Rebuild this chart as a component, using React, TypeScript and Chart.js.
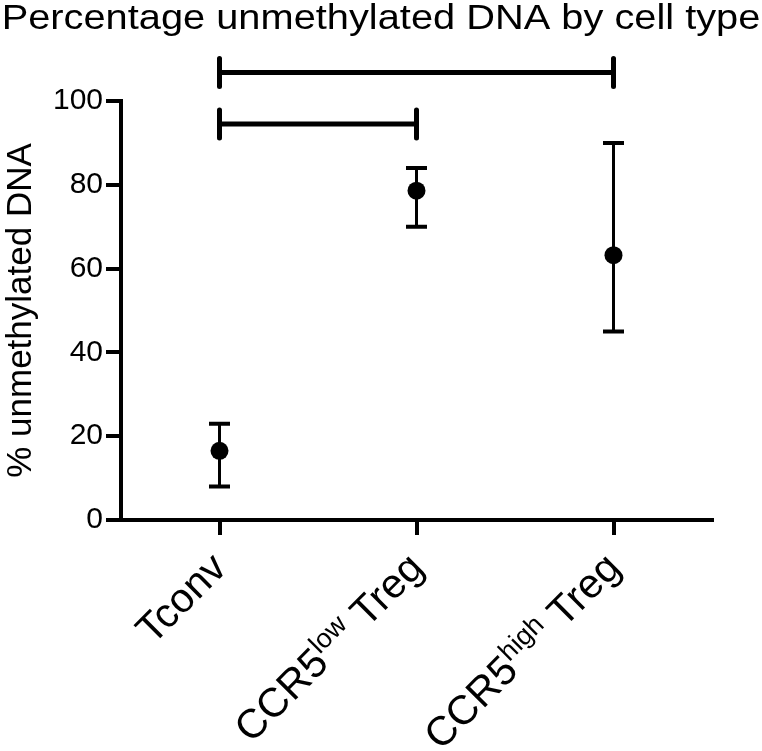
import React, { useEffect, useRef } from 'react';
import { Chart, registerables } from 'chart.js';

Chart.register(...registerables);

const FONT = "'Liberation Sans', Arial, Helvetica, sans-serif";

const chartTitle = 'Percentage unmethylated DNA by cell type';
const yAxisTitle = '% unmethylated DNA';
const categories = ['Tconv', 'CCR5low Treg', 'CCR5high Treg'];
const labelBase = ['Tconv', 'CCR5', 'CCR5'];
const labelSup = ['', 'low', 'high'];
const labelTail = ['', ' Treg', ' Treg'];
const means = [16.5, 78.6, 63.2];
const lowers = [8, 70, 45];
const uppers = [23, 84, 90];
const yMin = 0;
const yMax = 100;
const yStep = 20;
const bracketFrom = [0, 0];
const bracketTo = [1, 2];
const bracketLevel = [94.5, 106.8];

const titlePlugin = {
  id: 'stretchedTitle',
  afterDraw(chart: any) {
    const ctx = chart.ctx;
    ctx.save();
    ctx.font = `35px ${FONT}`;
    ctx.fillStyle = '#000';
    ctx.textAlign = 'center';
    ctx.textBaseline = 'alphabetic';
    ctx.translate(chart.width / 2, 28.5);
    ctx.scale(1.137, 1);
    ctx.fillText(chartTitle, 0, 0);
    ctx.restore();
  },
};

const errorBarPlugin = {
  id: 'errorBars',
  beforeDatasetsDraw(chart: any) {
    const { ctx, scales } = chart;
    const x = scales.x;
    const y = scales.y;
    ctx.save();
    ctx.strokeStyle = '#000';
    categories.forEach((_c, i) => {
      const px = x.getPixelForValue(i);
      const yl = y.getPixelForValue(lowers[i]);
      const yh = y.getPixelForValue(uppers[i]);
      ctx.lineCap = 'butt';
      ctx.lineWidth = 3;
      ctx.beginPath();
      ctx.moveTo(px, yl);
      ctx.lineTo(px, yh);
      ctx.stroke();
      ctx.lineWidth = 4;
      ctx.beginPath();
      ctx.moveTo(px - 10.5, yl);
      ctx.lineTo(px + 10.5, yl);
      ctx.moveTo(px - 10.5, yh);
      ctx.lineTo(px + 10.5, yh);
      ctx.stroke();
    });
    ctx.restore();
  },
};

const bracketPlugin = {
  id: 'brackets',
  afterDatasetsDraw(chart: any) {
    const { ctx, scales } = chart;
    const x = scales.x;
    const y = scales.y;
    ctx.save();
    ctx.strokeStyle = '#000';
    ctx.lineWidth = 5;
    bracketLevel.forEach((lvl, i) => {
      const x1 = x.getPixelForValue(bracketFrom[i]);
      const x2 = x.getPixelForValue(bracketTo[i]);
      const py = y.getPixelForValue(lvl);
      ctx.lineCap = 'butt';
      ctx.beginPath();
      ctx.moveTo(x1, py);
      ctx.lineTo(x2, py);
      ctx.stroke();
      ctx.lineCap = 'round';
      ctx.beginPath();
      ctx.moveTo(x1, py - 14);
      ctx.lineTo(x1, py + 14);
      ctx.moveTo(x2, py - 14);
      ctx.lineTo(x2, py + 14);
      ctx.stroke();
    });
    ctx.restore();
  },
};

const xLabelPlugin = {
  id: 'xLabels',
  afterDraw(chart: any) {
    const { ctx, scales, chartArea } = chart;
    const x = scales.x;
    const mainFont = `41px ${FONT}`;
    const supFont = `27px ${FONT}`;
    categories.forEach((_c, i) => {
      const px = x.getPixelForValue(i);
      ctx.save();
      ctx.translate(px + 1, chartArea.bottom + 42);
      ctx.rotate(-Math.PI / 4);
      ctx.fillStyle = '#000';
      ctx.textBaseline = 'middle';
      ctx.textAlign = 'left';
      ctx.font = mainFont;
      const w1 = ctx.measureText(labelBase[i]).width;
      const w3 = labelTail[i] ? ctx.measureText(labelTail[i]).width : 0;
      ctx.font = supFont;
      const w2 = labelSup[i] ? ctx.measureText(labelSup[i]).width : 0;
      let cx = -(w1 + w2 + w3);
      ctx.font = mainFont;
      ctx.fillText(labelBase[i], cx, 0);
      cx += w1;
      if (labelSup[i]) {
        ctx.font = supFont;
        ctx.fillText(labelSup[i], cx, -11);
        cx += w2;
      }
      if (labelTail[i]) {
        ctx.font = mainFont;
        ctx.fillText(labelTail[i], cx, 0);
      }
      ctx.restore();
    });
  },
};

export default function App() {
  const canvasRef = useRef<HTMLCanvasElement | null>(null);

  useEffect(() => {
    const canvas = canvasRef.current;
    if (!canvas) return;
    const chart = new Chart(canvas, {
      type: 'line',
      data: {
        labels: categories,
        datasets: [
          {
            data: means,
            showLine: false,
            pointRadius: 9,
            pointHoverRadius: 9,
            pointBackgroundColor: '#000',
            pointBorderColor: '#000',
            pointBorderWidth: 0,
            borderColor: '#000',
            backgroundColor: '#000',
          },
        ],
      },
      options: {
        responsive: false,
        maintainAspectRatio: false,
        animation: false,
        events: [],
        layout: { padding: { top: 101, right: 50, left: 0, bottom: 0 } },
        plugins: {
          legend: { display: false },
          title: { display: false },
          tooltip: { enabled: false },
        },
        scales: {
          x: {
            type: 'category',
            offset: true,
            grid: {
              display: true,
              drawOnChartArea: false,
              drawTicks: true,
              tickLength: 15,
              lineWidth: 4,
              color: '#000',
              offset: false,
            },
            border: { display: true, color: '#000', width: 4 },
            ticks: { display: false },
            afterFit: (s: any) => {
              s.height = 231;
            },
          },
          y: {
            min: yMin,
            max: yMax,
            ticks: {
              stepSize: yStep,
              color: '#000',
              font: { size: 30, family: FONT },
              padding: 3,
            },
            grid: {
              drawOnChartArea: false,
              drawTicks: true,
              tickLength: 15,
              lineWidth: 4,
              color: '#000',
            },
            border: { display: true, color: '#000', width: 4 },
            title: {
              display: true,
              text: yAxisTitle,
              color: '#000',
              font: { size: 35, family: FONT },
              padding: 0,
            },
            afterFit: (s: any) => {
              s.width = 121;
            },
          },
        },
      },
      plugins: [errorBarPlugin, bracketPlugin, xLabelPlugin, titlePlugin],
    } as any);
    return () => chart.destroy();
  }, []);

  return (
    <div style={{ position: 'fixed', left: 0, top: 0, width: 762, height: 751, background: '#fff' }}>
      <canvas
        ref={canvasRef}
        width={762}
        height={751}
        style={{ width: '762px', height: '751px', display: 'block' }}
      />
    </div>
  );
}
